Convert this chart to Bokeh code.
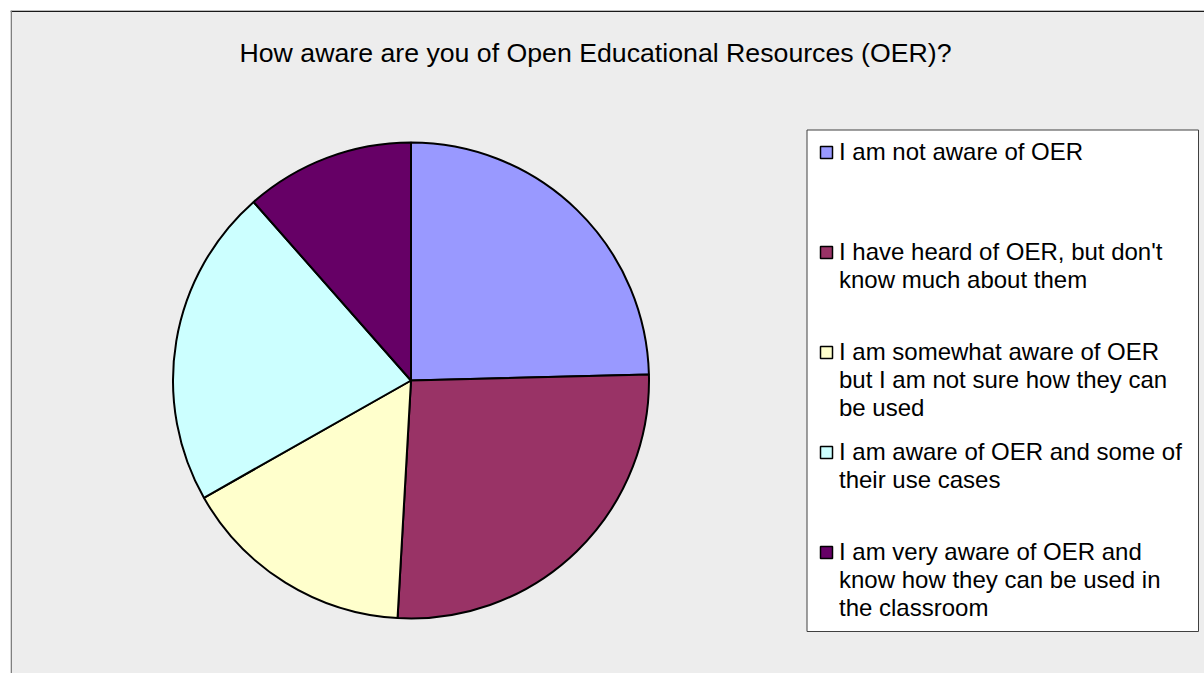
import math
from bokeh.plotting import figure
from bokeh.models import Range1d, ColumnDataSource, Span
from bokeh.core.properties import value
from bokeh.embed import file_html
from bokeh.resources import INLINE

# ---- data ----
title_text = "How aware are you of Open Educational Resources (OER)?"
categories = [
    "I am not aware of OER",
    "I have heard of OER, but don't\nknow much about them",
    "I am somewhat aware of OER\nbut I am not sure how they can\nbe used",
    "I am aware of OER and some of\ntheir use cases",
    "I am very aware of OER and\nknow how they can be used in\nthe classroom",
]
shares = [24.6, 26.3, 15.9, 21.7, 11.5]
colors = ["#9999FF", "#993366", "#FFFFCC", "#CCFFFF", "#660066"]

# ---- layout (page pixels -> data units, 1 unit = 1 px) ----
W, H = 1204, 673
X0, Y0 = 10, 10


def fx(px):
    return px - X0


def fy(py):
    return H - py


FONT = "Liberation Sans"

p = figure(width=W, height=H, output_backend="svg", toolbar_location=None,
           x_range=Range1d(0, W - X0), y_range=Range1d(0, H - Y0),
           x_axis_location=None, y_axis_location=None,
           min_border_left=X0, min_border_top=Y0, min_border_right=0, min_border_bottom=0,
           background_fill_color="#EDEDED", border_fill_color="white",
           outline_line_color=None)
p.grid.visible = False

# chart border (top and left visible)
p.add_layout(Span(location=fy(10.75), dimension="width", line_color="#1a1a1a", line_width=1.5))
p.add_layout(Span(location=fx(10.75), dimension="height", line_color="#808080", line_width=1.5))

# ---- pie ----
total = sum(shares)
starts, ends = [], []
cum = 0.0
for v in shares:
    starts.append(math.pi / 2 - 2 * math.pi * cum / total)
    cum += v
    ends.append(math.pi / 2 - 2 * math.pi * cum / total)

src = ColumnDataSource(dict(cat=categories, share=shares, color=colors,
                            start=starts, end=ends))
p.wedge(x=fx(410.5), y=fy(380), radius=238, start_angle="start", end_angle="end",
        direction="clock", fill_color="color", line_color="black", line_width=2,
        source=src)

# ---- title ----
p.text(x=[fx(595)], y=[fy(52)], text=[title_text], text_font=value(FONT),
       text_font_size="26.7px", text_color="black", text_align="center",
       text_baseline="alphabetic")

# ---- legend ----
p.quad(left=[fx(806.5)], right=[fx(1198)], top=[fy(129.5)], bottom=[fy(631)],
       fill_color="white", line_color="#404040", line_width=1)

mx, my, tx, ty, tt = [], [], [], [], []
for i, cat in enumerate(categories):
    center = 152 + 100 * i
    mx.append(fx(826))
    my.append(fy(center))
    for j, line in enumerate(cat.split("\n")):
        tx.append(fx(838.5))
        ty.append(fy(center - 1 + 28 * j))
        tt.append(line)

p.scatter(x=mx, y=my, marker="square", size=12, fill_color=colors,
          line_color="black", line_width=1.5)
p.text(x=tx, y=ty, text=tt, text_font=value(FONT), text_font_size="24px",
       text_color="black", text_align="left", text_baseline="alphabetic")

open("out.html", "w").write(file_html(p, INLINE))
